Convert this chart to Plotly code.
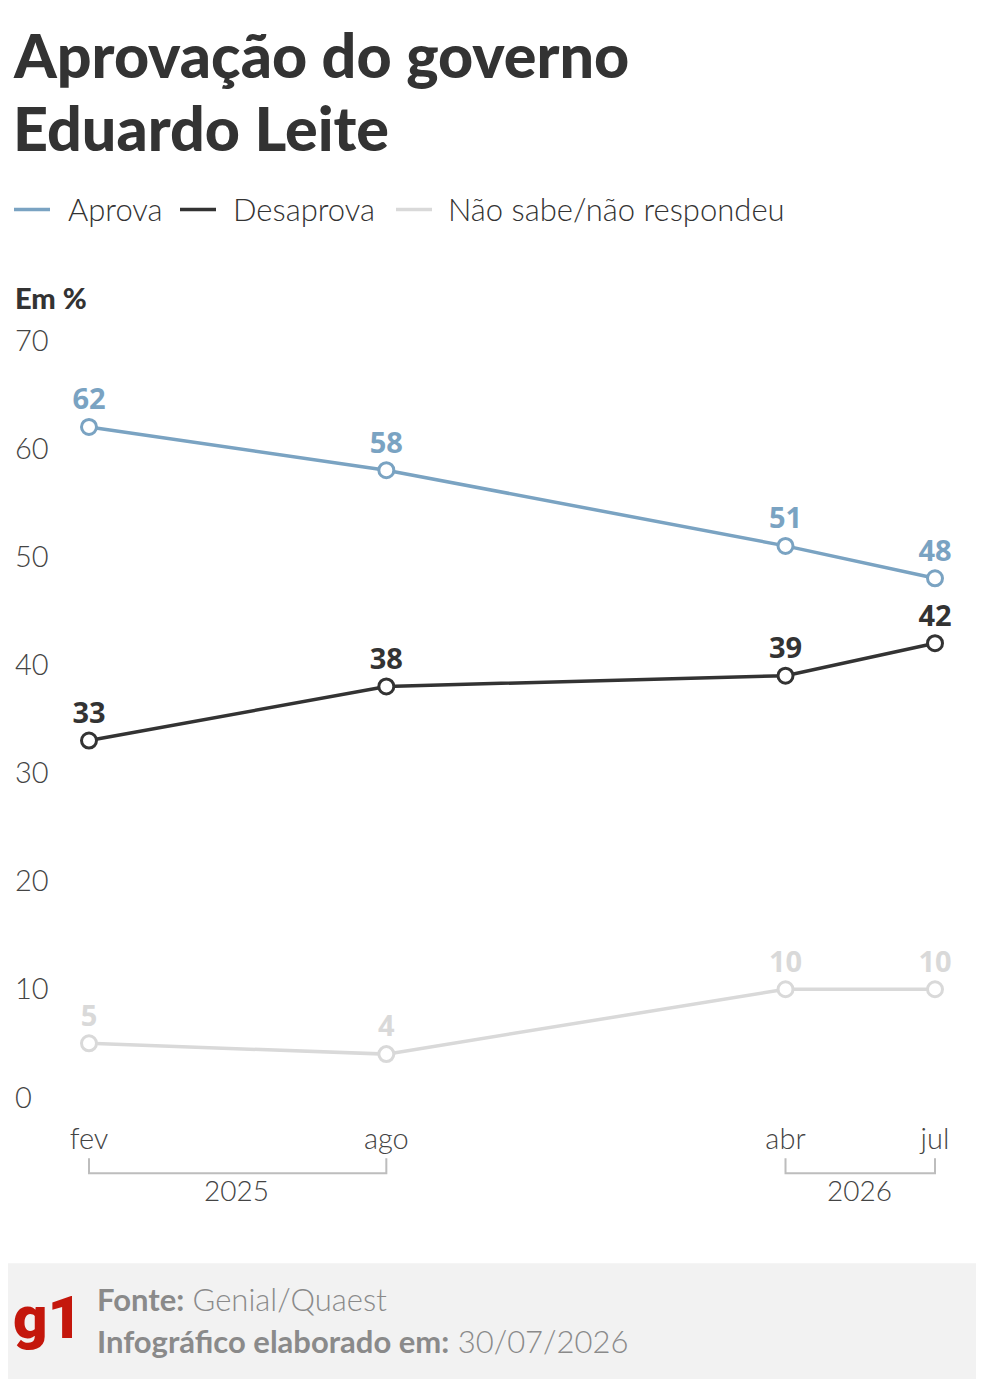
import pandas as pd
import plotly.graph_objects as go

# dados
datas = ['2025-02-01', '2025-08-01', '2026-04-01', '2026-07-01']
meses = ['fev', 'ago', 'abr', 'jul']
anos = ['2025', '2025', '2026', '2026']

aprova = [62, 58, 51, 48]
desaprova = [33, 38, 39, 42]
nao_sabe = [5, 4, 10, 10]

nomes = ['Aprova', 'Desaprova', 'Não sabe/não respondeu']
cores = ['#7aa3c2', '#333333', '#d9d9d9']
valores = [aprova, desaprova, nao_sabe]

# a pagina tem margem de 8px; tudo em pixels da figura
W, H = 976, 1371
PL, PR = 4, 960
Y_RANGE = [-2, 73]
PB = 1089 + 2 * (757 / 70)
PT = 332 - 3 * (757 / 70)

FONT = 'Lato'
LABEL_FONT = 'Open Sans'

# range do eixo x para que fev fique em 81px e jul em 927px
d0, d1 = pd.Timestamp(datas[0]), pd.Timestamp(datas[-1])
por_px = (d1 - d0) / (927 - 81)
x_range = [(d0 - por_px * (81 - PL)).isoformat(), (d1 + por_px * (PR - 927)).isoformat()]


def py(pix):
    return (PB - pix) / (PB - PT)


def px(pix):
    return (pix - PL) / (PR - PL)


fig = go.Figure()

for nome, serie, cor in zip(nomes, valores, cores):
    fig.add_trace(go.Scatter(
        x=datas,
        y=serie,
        name=nome,
        mode='lines+markers+text',
        text=[str(v) for v in serie],
        textposition='top center',
        textfont=dict(family=LABEL_FONT, size=29, color=cor, weight=700),
        line=dict(color=cor, width=3.5),
        marker=dict(size=15, color='white', line=dict(color=cor, width=3)),
        showlegend=False,
        hoverinfo='skip',
        cliponaxis=False,
    ))

shapes = []
annotations = []

# legenda manual
leg_linhas = [6, 172, 388]
leg_textos = [59, 224, 439]
for nome, cor, xl, xt in zip(nomes, cores, leg_linhas, leg_textos):
    shapes.append(dict(
        type='line', xref='paper', yref='paper',
        x0=px(xl), x1=px(xl + 36), y0=py(201), y1=py(201),
        line=dict(color=cor, width=3.5),
    ))
    annotations.append(dict(
        x=px(xt), y=py(201), text=nome,
        font=dict(family=FONT, size=31, color='#333333', weight=300),
    ))

# colchetes dos anos
for ano in sorted(set(anos)):
    xs = [d for d, a in zip(datas, anos) if a == ano]
    x0, x1 = xs[0], xs[-1]
    shapes.append(dict(
        type='path',
        xref='x', yref='paper',
        path=f'M {x0},{py(1150)} L {x0},{py(1165)} L {x1},{py(1165)} L {x1},{py(1150)}',
        line=dict(color='#bdbdbd', width=2),
    ))
    meio = pd.Timestamp(x0) + (pd.Timestamp(x1) - pd.Timestamp(x0)) / 2
    fig.add_annotation(
        x=meio.strftime('%Y-%m-%d'), xref='x',
        y=py(1182), yref='paper',
        text=ano, showarrow=False,
        font=dict(family=FONT, size=28, color='#444444', weight=300),
        xanchor='center', yanchor='middle',
    )

# rodape
shapes.append(dict(
    type='rect', xref='paper', yref='paper',
    x0=px(-10), x1=px(W + 10), y0=py(1255), y1=py(H + 10),
    fillcolor='#f2f2f2', line=dict(width=0), layer='below',
))

annotations += [
    dict(x=px(4), y=py(46), text='Aprovação do governo',
         font=dict(family=FONT, size=61, color='#333333', weight=900)),
    dict(x=px(4), y=py(119), text='Eduardo Leite',
         font=dict(family=FONT, size=61, color='#333333', weight=900)),
    dict(x=px(6), y=py(289), text='Em %',
         font=dict(family=FONT, size=29, color='#333333', weight=900)),
    dict(x=px(4), y=py(1309), text='g1',
         font=dict(family='Roboto', size=60, color='#c4170c', weight=900)),
    dict(x=px(88), y=py(1291), text='<b>Fonte:</b> Genial/Quaest',
         font=dict(family=FONT, size=31, color='#8a8a8a', weight=300)),
    dict(x=px(88), y=py(1333), text='<b>Infográfico elaborado em:</b> 30/07/2026',
         font=dict(family=FONT, size=31, color='#8a8a8a', weight=300)),
]
for a in annotations:
    a.update(xref='paper', yref='paper', showarrow=False,
             xanchor='left', yanchor='middle', borderpad=0)
for a in annotations:
    fig.add_annotation(**a)

fig.update_layout(
    width=W,
    height=H,
    margin=dict(l=PL, r=W - PR, t=PT, b=H - PB, pad=0),
    paper_bgcolor='white',
    plot_bgcolor='white',
    font=dict(family=FONT, color='#444444'),
    shapes=shapes,
    showlegend=False,
)

fig.update_xaxes(
    type='date',
    range=x_range,
    tickvals=datas,
    ticktext=meses,
    showgrid=False,
    zeroline=False,
    showline=False,
    ticks='',
    tickfont=dict(family=FONT, size=29, color='#444444', weight=300),
)

fig.update_yaxes(
    range=Y_RANGE,
    tickvals=[0, 10, 20, 30, 40, 50, 60, 70],
    ticklabelposition='inside',
    showgrid=False,
    zeroline=False,
    showline=False,
    ticks='',
    tickfont=dict(family=FONT, size=29, color='#444444', weight=300),
)

fig.write_html('out.html')
